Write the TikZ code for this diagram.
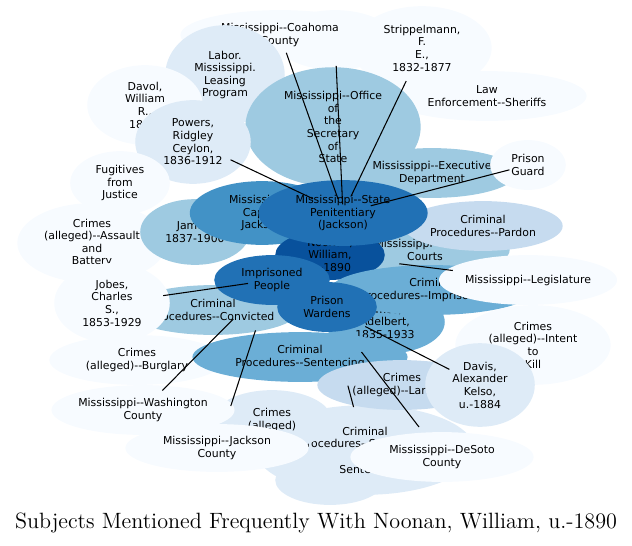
\documentclass[tikz,border=0pt]{standalone}
\usepackage{fontspec}
\setsansfont{DejaVu Sans}[Ligatures=TeXOff]
\usetikzlibrary{shapes.geometric,calc}
\definecolor{b1}{HTML}{F7FBFF}
\definecolor{b2}{HTML}{DEEBF7}
\definecolor{b3}{HTML}{C6DBEF}
\definecolor{b4}{HTML}{9ECAE1}
\definecolor{b5}{HTML}{6BAED6}
\definecolor{b6}{HTML}{4292C6}
\definecolor{b7}{HTML}{2171B5}
\definecolor{b8}{HTML}{08519C}

\begin{document}
\begin{tikzpicture}[x=0.02cm,y=-0.02cm,
    bub/.style={ellipse,inner sep=0pt,align=center,font=\sffamily\fontsize{6.2}{7.2}\selectfont},
    sz/.style 2 args={minimum width=#1*0.5669pt,minimum height=#2*0.5669pt},
    link/.style={black,line width=0.6pt}
]
\useasboundingbox (0,0) rectangle (632,545);

% === Back bubbles ===
\node[bub,fill=b1,sz={120}{60}] (secret) at (335,40) {Secret};
\node[bub,fill=b1,sz={200}{50}] (coahoma) at (280,35) {Mississippi--Coahoma\\County};
\node[bub,fill=b2,sz={120}{100}] (labor) at (225,75) {Labor.\\Mississippi.\\Leasing\\Program};
\node[bub,fill=b1,sz={116}{80}] (davol) at (145,105) {Davol,\\William\\R.,\\1830-};
\node[bub,fill=b1,sz={140}{84}] (strip) at (422,48) {Strippelmann,\\F.\\E.,\\1832-1877};
\node[bub,fill=b1,sz={200}{50}] (sheriffs) at (487,96) {Law\\Enforcement--Sheriffs};
\node[bub,fill=b4,sz={176}{120}] (office) at (333,127) {Mississippi--Office\\of\\the\\Secretary\\of\\State};
\node[bub,fill=b2,sz={116}{84}] (powers) at (193,142) {Powers,\\Ridgley\\Ceylon,\\1836-1912};
\node[bub,fill=b1,sz={100}{64}] (fugitives) at (120,183) {Fugitives\\from\\Justice};
\node[bub,fill=b1,sz={150}{80}] (assault) at (92,243) {Crimes\\(alleged)--Assault\\and\\Battery};
\node[bub,fill=b4,sz={170}{50}] (exec) at (432,173) {Mississippi--Executive\\Department};
\node[bub,fill=b1,sz={76}{50}] (guard) at (528,165) {Prison\\Guard};
\node[bub,fill=b4,sz={170}{52}] (circuit) at (425,250) {Mississippi--Circuit\\Courts};
\node[bub,fill=b3,sz={160}{50}] (pardon) at (483,226) {Criminal\\Procedures--Pardon};
\node[bub,fill=b4,sz={110}{66}] (james) at (195,232) {James,\\1837-1900};
\node[bub,fill=b6,sz={145}{64}] (capitol) at (262,213) {Mississippi--\\Capitol\\Jackson};
\node[bub,fill=b8,sz={110}{50}] (noonan) at (330,255) {Noonan,\\William,\\u.-1890};
\node[bub,fill=b7,sz={170}{66}] (pen) at (343,213) {Mississippi--State\\Penitentiary\\(Jackson)};
\node[bub,fill=b4,sz={150}{50}] (convicted) at (213,310) {Criminal\\Procedures--Convicted};
\node[bub,fill=b1,sz={116}{80}] (jobes) at (112,303) {Jobes,\\Charles\\S.,\\1853-1929};
\node[bub,fill=b5,sz={120}{64}] (ames) at (385,322) {Ames,\\Adelbert,\\1835-1933};
\node[bub,fill=b5,sz={170}{50}] (imprison) at (432,290) {Criminal\\Procedures--Imprisonment};
\node[bub,fill=b1,sz={172}{50}] (legis) at (528,280) {Mississippi--Legislature};
\node[bub,fill=b7,sz={116}{50}] (people) at (272,280) {Imprisoned\\People};
\node[bub,fill=b7,sz={100}{50}] (wardens) at (327,307) {Prison\\Wardens};
\node[bub,fill=b1,sz={156}{80}] (intent) at (533,345) {Crimes\\(alleged)--Intent\\to\\Kill};
\node[bub,fill=b1,sz={176}{50}] (burglary) at (137,360) {Crimes\\(alleged)--Burglary};
\node[bub,fill=b2,sz={110}{50}] (small) at (330,480) {};
\node[bub,fill=b2,sz={220}{90}] (sentence) at (365,450) {Criminal\\Procedures--Suspended\\\\Sentence};
\node[bub,fill=b2,sz={120}{60}] (alleged) at (272,420) {Crimes\\(alleged)};
\node[bub,fill=b5,sz={216}{50}] (sentencing) at (300,357) {Criminal\\Procedures--Sentencing};
\node[bub,fill=b3,sz={170}{50}] (larceny) at (402,385) {Crimes\\(alleged)--Larceny};
\node[bub,fill=b2,sz={110}{84}] (davis) at (480,385) {Davis,\\Alexander\\Kelso,\\u.-1884};
\node[bub,fill=b1,sz={170}{50}] (washington) at (143,410) {Mississippi--Washington\\County};
\node[bub,fill=b1,sz={184}{48}] (jackson) at (217,448) {Mississippi--Jackson\\County};
\node[bub,fill=b1,sz={184}{50}] (desoto) at (442,457) {Mississippi--DeSoto\\County};

% === Links ===
\foreach \src/\dst/\a/\b in {pen/coahoma/.08/.9, pen/secret/.05/.85, pen/strip/.1/.8,
    pen/powers/.2/.75, pen/guard/.15/.9, people/jobes/.15/.68, noonan/legis/.35/.62,
    wardens/davis/.25/.8, people/washington/.3/.85, people/jackson/.3/.75,
    wardens/desoto/.3/.8, wardens/sentence/.55/.7}
    \draw[link] ($(\src)!\a!(\dst)$) -- ($(\src)!\b!(\dst)$);

% === Title ===
\node[font=\fontsize{12.6}{15}\selectfont] (title) at (316,523) {Subjects Mentioned Frequently With Noonan, William, u.-1890};
\end{tikzpicture}
\end{document}
